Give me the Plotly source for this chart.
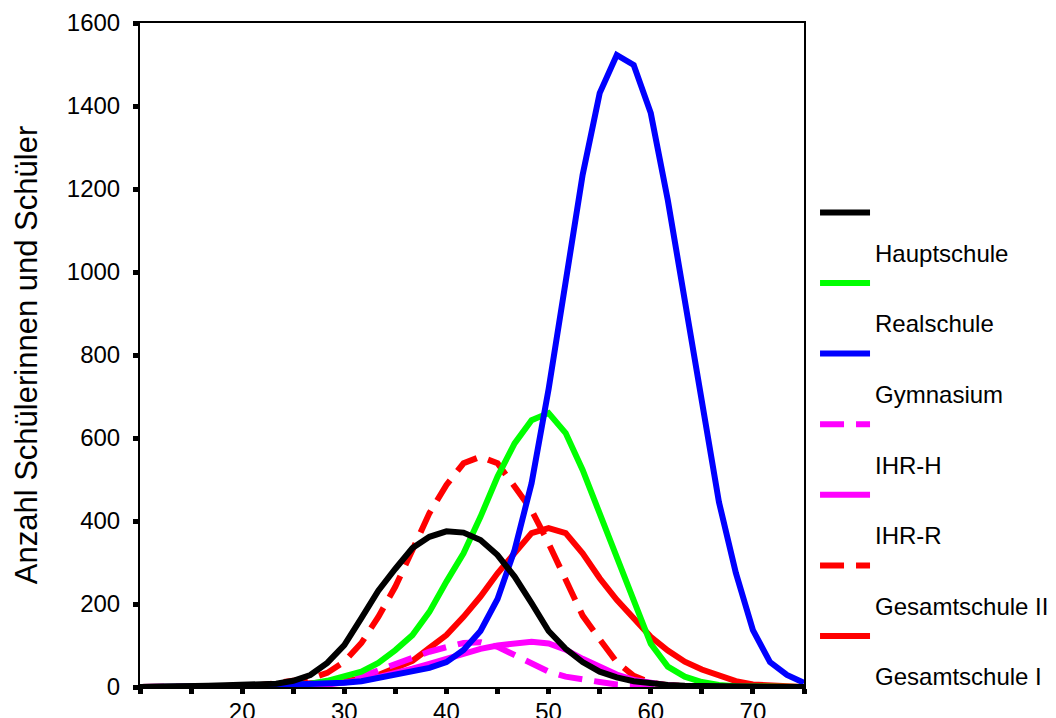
import plotly.graph_objects as go

x_vals = [10.0, 11.67, 13.33, 15.0, 16.67, 18.33, 20.0, 21.67, 23.33, 25.0,
          26.67, 28.33, 30.0, 31.67, 33.33, 35.0, 36.67, 38.33, 40.0, 41.67,
          43.33, 45.0, 46.67, 48.33, 50.0, 51.67, 53.33, 55.0, 56.67, 58.33,
          60.0, 61.67, 63.33, 65.0, 66.67, 68.33, 70.0, 71.67, 73.33, 75.0]

hauptschule = [0, 0, 1, 2, 3, 4, 5, 5, 8, 15,
               29, 58, 101, 166, 232, 285, 335, 362, 375, 372,
               354, 318, 266, 202, 135, 92, 60, 37, 23, 14,
               8, 5, 3, 2, 1, 0, 0, 0, 0, 0]
realschule = [0, 0, 0, 0, 1, 1, 2, 2, 3, 5,
              8, 15, 25, 37, 58, 89, 125, 181, 254, 322,
              410, 507, 587, 643, 660, 612, 523, 419, 306, 202,
              104, 49, 25, 12, 5, 2, 1, 0, 0, 0]
gymnasium = [0, 1, 1, 1, 2, 2, 2, 3, 3, 4,
             5, 6, 10, 14, 22, 29, 37, 46, 60, 89,
             135, 212, 330, 491, 718, 981, 1234, 1431, 1523, 1499,
             1383, 1173, 933, 675, 446, 275, 137, 60, 29, 10]
ihr_h = [0, 0, 0, 0, 0, 0, 1, 1, 1, 2,
         3, 7, 14, 25, 40, 56, 70, 85, 96, 106,
         108, 97, 77, 58, 37, 25, 17, 12, 6, 3,
         1, 0, 0, 0, 0, 0, 0, 0, 0, 0]
ihr_r = [0, 0, 0, 0, 0, 0, 0, 1, 1, 2,
         3, 6, 10, 16, 24, 33, 44, 56, 68, 80,
         92, 100, 106, 109, 105, 90, 68, 48, 30, 17,
         9, 4, 2, 1, 0, 0, 0, 0, 0, 0]
gesamt_ii = [0, 0, 0, 1, 1, 2, 3, 4, 8, 15,
             20, 34, 61, 106, 169, 242, 330, 419, 487, 539,
             555, 539, 483, 426, 346, 258, 172, 115, 60, 27,
             10, 4, 2, 1, 0, 0, 0, 0, 0, 0]
gesamt_i = [0, 0, 0, 1, 1, 2, 2, 3, 4, 6,
            8, 12, 14, 20, 29, 46, 63, 94, 125, 169,
            218, 274, 322, 371, 383, 371, 322, 262, 210, 165,
            121, 88, 61, 42, 27, 14, 6, 3, 1, 0]

y_ticks = [0, 200, 400, 600, 800, 1000, 1200, 1400, 1600]
x_ticks = [20, 30, 40, 50, 60, 70]
x_minor_ticks = [10, 15, 25, 35, 45, 55, 65, 75]

# (name, values, colour, dash, legend rank) - drawn in this order
series = [
    ("Gesamtschule I", gesamt_i, "#ff0000", "solid", 7),
    ("Gesamtschule II", gesamt_ii, "#ff0000", "24px,12px", 6),
    ("IHR-R", ihr_r, "#ff00ff", "solid", 5),
    ("IHR-H", ihr_h, "#ff00ff", "24px,12px", 4),
    ("Realschule", realschule, "#00ff00", "solid", 2),
    ("Gymnasium", gymnasium, "#0000ff", "solid", 3),
    ("Hauptschule", hauptschule, "#000000", "solid", 1),
]

FONT = "Liberation Sans, Arial, sans-serif"

fig = go.Figure()
for name, vals, col, dash, rank in series:
    fig.add_trace(go.Scatter(
        x=x_vals, y=vals, mode="lines",
        name="&nbsp;<br><sub><span style='font-size:24px'>" + name + "</span></sub>",
        legendrank=rank,
        line=dict(color=col, width=6, dash=dash),
        hoverinfo="skip",
    ))

# page body adds an 8px offset, so the figure is 8px smaller and margins shifted
fig.update_layout(
    width=1048, height=710,
    paper_bgcolor="white", plot_bgcolor="white",
    margin=dict(l=132, r=252, t=15, b=31, autoexpand=False),
    font=dict(family=FONT, size=24, color="black"),
    showlegend=True,
    legend=dict(
        x=1.0166, xanchor="left", y=0.750, yanchor="top",
        valign="top", itemwidth=50,
        font=dict(family=FONT, size=26, color="black"),
        bgcolor="rgba(0,0,0,0)", borderwidth=0, traceorder="normal",
    ),
    xaxis=dict(
        range=[10, 75], tickvals=x_ticks,
        automargin=False,
        showgrid=False, zeroline=False,
        showline=True, linecolor="black", linewidth=2, mirror=True,
        ticks="outside", ticklen=5, tickwidth=5, tickcolor="black",
        minor=dict(tickvals=x_minor_ticks, ticks="outside", ticklen=5,
                   tickwidth=5, tickcolor="black", showgrid=False),
        ticklabelstandoff=-3,
        tickfont=dict(family=FONT, size=24, color="black"),
    ),
    yaxis=dict(
        range=[0, 1600], tickvals=y_ticks,
        automargin=False,
        showgrid=False, zeroline=False,
        showline=True, linecolor="black", linewidth=2, mirror=True,
        ticks="outside", ticklen=5, tickwidth=5, tickcolor="black",
        ticklabelstandoff=8,
        tickfont=dict(family=FONT, size=24, color="black"),
        title=dict(text="Anzahl Schülerinnen und Schüler",
                   font=dict(family=FONT, size=31, color="black"),
                   standoff=20),
    ),
)

fig.write_html("out.html")
